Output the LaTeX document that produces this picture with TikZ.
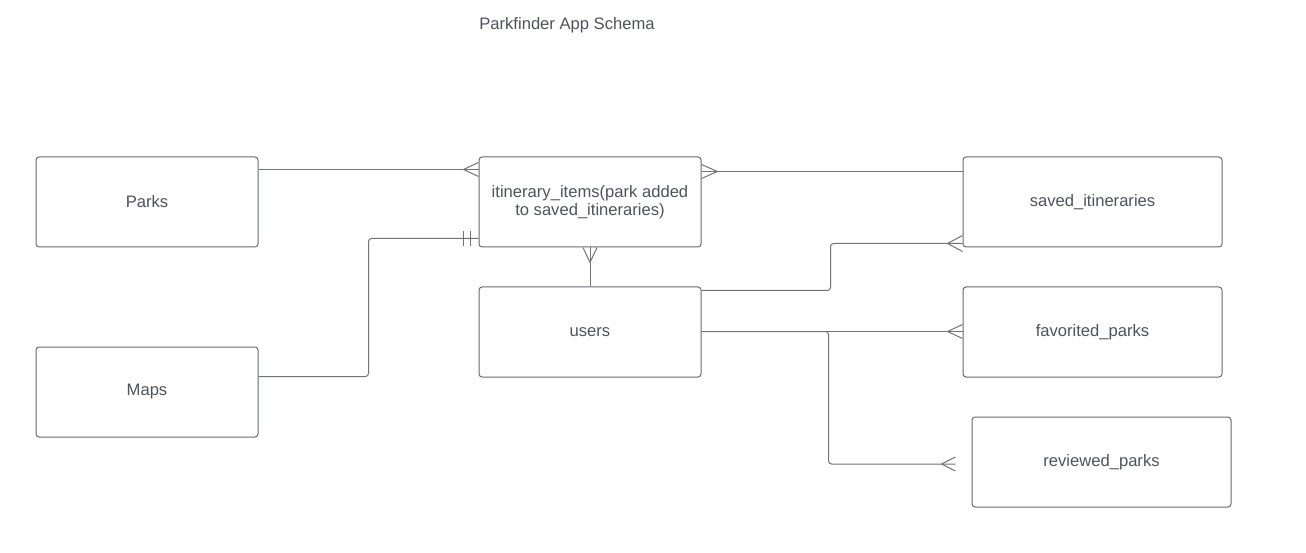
\documentclass[tikz,border=0pt]{standalone}
\usepackage{fontspec}
\setmainfont{Liberation Sans}
\usetikzlibrary{calc}
\definecolor{boxc}{RGB}{102,106,114}
\definecolor{linec}{RGB}{112,115,122}
\definecolor{txt}{RGB}{78,82,90}
\tikzset{
  box/.style={draw=boxc, rounded corners=3pt, line width=1pt, inner sep=0pt,
    minimum width=222pt, minimum height=90pt, text=txt, align=center,
    font=\fontsize{16.6}{18.5}\selectfont},
  widebox/.style={box, minimum width=259pt},
  conn/.style={draw=linec, line width=1pt, rounded corners=3pt},
  foot/.style={draw=linec, line width=1pt},
}
\begin{document}
\begin{tikzpicture}[x=1pt,y=-1pt]
\useasboundingbox (0,0) rectangle (1306,553);
\node[text=txt, font=\fontsize{16.6}{18.5}\selectfont] (title) at (567,25) {Parkfinder App Schema};
\node[box] (parks) at (147,202) {Parks};
\node[box] (maps) at (147,392) {Maps};
\node[box] (itin) at (590,202) {itinerary\_items(park added\\to saved\_itineraries)};
\node[box] (users) at (590,332) {users};
\node[widebox] (saved) at (1092.5,202) {saved\_itineraries};
\node[widebox] (fav) at (1092.5,332) {favorited\_parks};
\node[widebox] (rev) at (1101.5,462) {reviewed\_parks};
% Parks -> itinerary_items
\draw[conn] ($(parks.north east)+(0,13)$) -- ($(itin.north west)+(0,13)$);
\draw[foot] ($(itin.north west)+(-15,13)$) -- ($(itin.north west)+(0,6)$)
            ($(itin.north west)+(-15,13)$) -- ($(itin.north west)+(0,20)$);
% saved_itineraries -> itinerary_items
\draw[conn] ($(saved.north west)+(0,15)$) -- ($(itin.north east)+(0,15)$);
\draw[foot] ($(itin.north east)+(16,15)$) -- ($(itin.north east)+(0,8)$)
            ($(itin.north east)+(16,15)$) -- ($(itin.north east)+(0,22)$);
% Maps -> itinerary_items
\draw[conn] ($(maps.north east)+(0,30)$) -| ($(itin.south west)+(-110,-9)$) -- ($(itin.south west)+(0,-9)$);
\draw[foot] ($(itin.south west)+(-15,-16)$) -- ++(0,15)
            ($(itin.south west)+(-8,-16)$) -- ++(0,15);
% users -> itinerary_items
\draw[conn] (users.north) -- (itin.south);
\draw[foot] ($(itin.south)+(0,15)$) -- ($(itin.south)+(-7,0)$)
            ($(itin.south)+(0,15)$) -- ($(itin.south)+(7,0)$);
% users -> saved_itineraries
\draw[conn] ($(users.north east)+(0,4)$) -| ($(saved.south west)+(-132,-4)$) -- ($(saved.south west)+(0,-4)$);
\draw[foot] ($(saved.south west)+(-15,-4)$) -- ($(saved.south west)+(0,-12)$)
            ($(saved.south west)+(-15,-4)$) -- ($(saved.south west)+(0,4)$);
% users -> favorited_parks
\draw[conn] ($(users.north east)+(0,45)$) -- ($(fav.north west)+(0,45)$);
\draw[foot] ($(fav.north west)+(-15,45)$) -- ($(fav.north west)+(0,38)$)
            ($(fav.north west)+(-15,45)$) -- ($(fav.north west)+(0,52)$);
% users -> reviewed_parks
\draw[conn] ($(users.north east)+(0,45)$) -| ($(rev.west)+(-143,2)$) -- ($(rev.west)+(-16,2)$);
\draw[foot] ($(rev.west)+(-30,2)$) -- ($(rev.west)+(-16,-5)$)
            ($(rev.west)+(-30,2)$) -- ($(rev.west)+(-16,9)$);
\end{tikzpicture}
\end{document}
